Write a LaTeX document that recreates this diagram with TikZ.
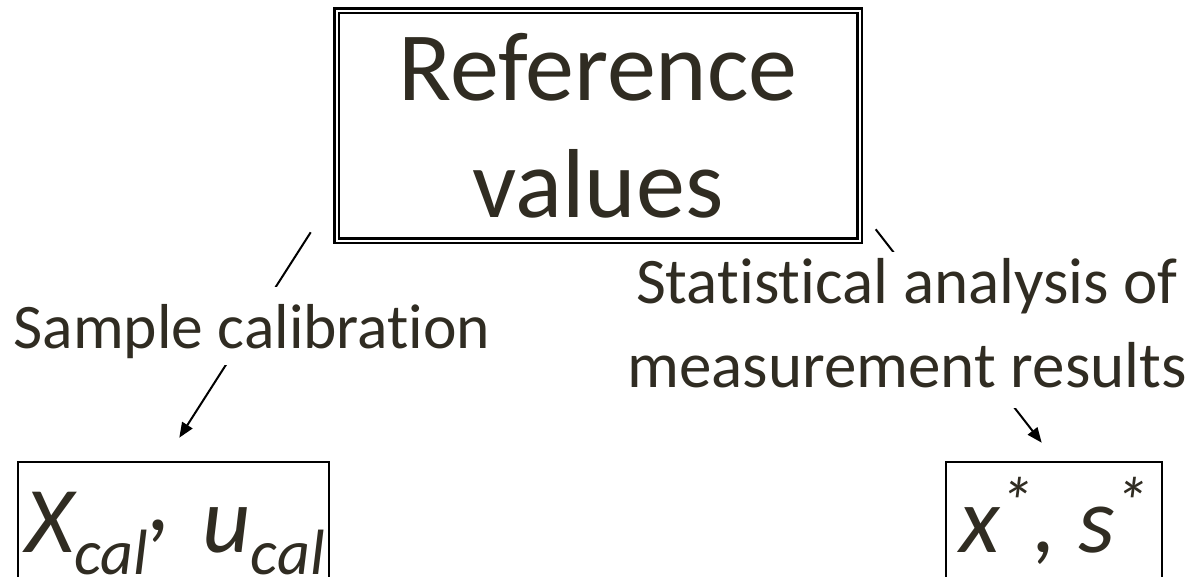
\documentclass[tikz,border=0pt]{standalone}
\usepackage{fontspec}
\setmainfont{Carlito}[Ligatures=NoCommon]
\usetikzlibrary{arrows.meta}
\definecolor{txt}{RGB}{48,44,34}
\newcommand\lowtxt[1]{\raisebox{-22pt}{\fontsize{64}{64}\selectfont #1}}
\newcommand\hightxt[1]{\raisebox{27pt}{\fontsize{68}{68}\selectfont #1}}
\newcommand\hicomma{\raisebox{22pt}{,}}
\begin{document}
\begin{tikzpicture}[x=1pt,y=-1pt,
  dbl/.style={draw, double, double distance=2pt, line width=2.5pt, inner sep=0pt,
    minimum width=523pt, minimum height=230pt, text=txt, align=center,
    font=\fontsize{98}{117}\selectfont},
  resbox/.style={draw, line width=2pt, inner ysep=0pt, anchor=north,
    text height=90pt, text depth=60pt, text=txt,
    font=\fontsize{94}{94}\selectfont\itshape},
  lab/.style={fill=white, inner sep=0pt, text=txt, align=center},
  arr/.style={line width=2pt, -{Triangle[length=15pt,width=12pt]}}
]
\useasboundingbox (0,0) rectangle (1192,576);
\clip (0,0) rectangle (1192,576);

\node[dbl] (top) at (598,125.5) {Reference\\values};
\node[resbox, inner xsep=8pt] (cal) at (173.25,461)
  {\makebox[295.5pt][l]{X\lowtxt{cal}\hicomma\hspace{31pt}u\lowtxt{cal}}};
\node[resbox, inner xsep=13pt] (stat) at (1054,461)
  {\makebox[190pt][l]{x\hightxt{*}, s\hightxt{*}}};

\coordinate (l1) at (310.7,232.3);
\coordinate (l2) at (179.3,437.7);
\coordinate (r1) at (875.7,229.3);
\coordinate (r2) at (1041.7,442.7);
\draw[arr] (l1) -- (l2);
\draw[arr] (r1) -- (r2);

\node[lab, font=\fontsize{63.5}{84}\selectfont] (sclab) at (252,326)
  {\rule{0pt}{61pt}Sample calibration\rule[-17pt]{0pt}{17pt}};
\node[lab, font=\fontsize{65}{84}\selectfont] (stlab) at (907,330)
  {\rule{0pt}{51pt}Statistical analysis of\\measurement results\rule[-21pt]{0pt}{21pt}};
\end{tikzpicture}
\end{document}
